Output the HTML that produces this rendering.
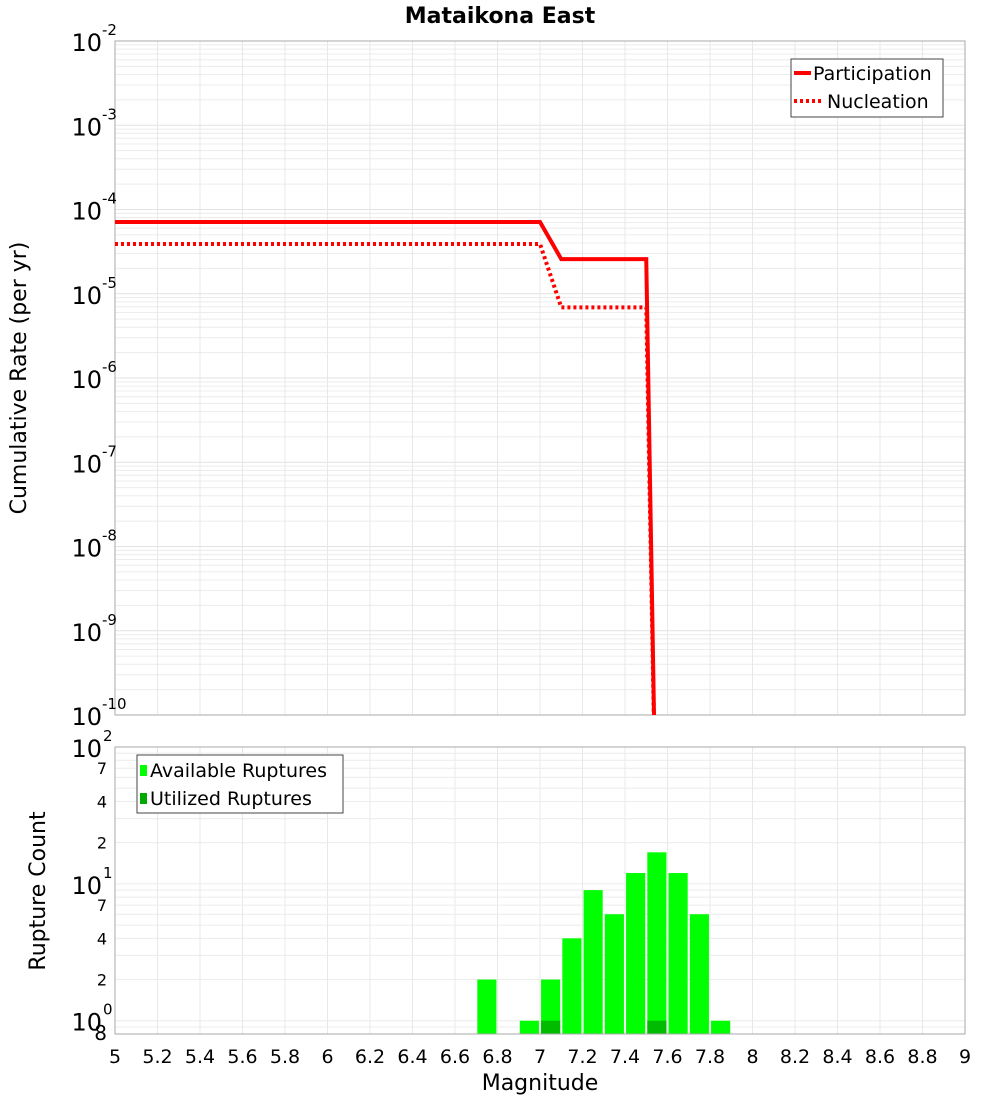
<!DOCTYPE html>
<html><head><meta charset="utf-8"><style>
body{margin:0;background:#fff}
text{font-family:"DejaVu Sans","Liberation Sans",sans-serif}
</style></head><body>
<svg id="c" width="1000" height="1100" viewBox="0 0 1000 1100" xmlns="http://www.w3.org/2000/svg">
<text x="500" y="23" text-anchor="middle" font-size="22" font-weight="bold">Mataikona East</text>
<g id="topg"></g><g id="botg"></g>
<text transform="translate(26,378) rotate(-90)" text-anchor="middle" font-size="22">Cumulative Rate (per yr)</text>
<text transform="translate(45,891) rotate(-90)" text-anchor="middle" font-size="22">Rupture Count</text>
<text x="540" y="1090" text-anchor="middle" font-size="22">Magnitude</text>
</svg>
<script>
const partMag=[5.0,7.0,7.1,7.5,7.55];
const partRate=[7.1e-5,7.1e-5,2.58e-5,2.58e-5,1e-12];
const nuclMag=[5.0,7.0,7.1,7.5,7.55];
const nuclRate=[3.9e-5,3.9e-5,6.9e-6,6.9e-6,1e-12];
const binMag=[6.75,6.95,7.05,7.15,7.25,7.35,7.45,7.55,7.65,7.75,7.85];
const availCount=[2,1,2,4,9,6,12,17,12,6,1];
const usedCount=[0,0,1,0,0,0,0,1,0,0,0];
const xTicks=[5,5.2,5.4,5.6,5.8,6,6.2,6.4,6.6,6.8,7,7.2,7.4,7.6,7.8,8,8.2,8.4,8.6,8.8,9];

const NS='http://www.w3.org/2000/svg';
function mk(p,t,a,txt){const e=document.createElementNS(NS,t);for(const k in a)e.setAttribute(k,a[k]);if(txt!==undefined)e.textContent=txt;p.appendChild(e);return e;}
const L=115,R=965;
const X=m=>L+(m-5)/4*(R-L);
const T0=41,T1=715;
const YT=v=>T0+(-2-Math.log10(v))/8*(T1-T0);
const B0=747,B1=1034;
const YB=v=>B0+(2-Math.log10(v))/Math.log10(100/0.8)*(B1-B0);
const topG=document.getElementById('topg'),botG=document.getElementById('botg');
for(let d=-10;d<-2;d++)for(let k=1;k<10;k++){const y=YT(k*Math.pow(10,d));const g=mk(topG,'line',{x1:L,x2:R,y1:y,y2:y,stroke:k==1?'#e2e2e2':'#ececec','stroke-width':1});

}
xTicks.forEach(t=>{const g=mk(topG,'line',{x1:X(t),x2:X(t),y1:T0,y2:T1,stroke:'#e8e8e8'});
 
 
 const h=mk(botG,'line',{x1:X(t),x2:X(t),y1:B0,y2:B1,stroke:'#e8e8e8'});
 
 
 const tx=mk(botG,'text',{x:X(t),y:1063,'text-anchor':'middle','font-size':19},String(t));
 
 });
let fr=mk(topG,'rect',{x:L,y:T0,width:R-L,height:T1-T0,fill:'none',stroke:'#aaa'});


for(let d=-10;d<=-2;d++){const y=YT(Math.pow(10,d));const t=mk(topG,'text',{x:102,y:y+10,'text-anchor':'end','font-size':24},'10');
 
 
 const s=mk(topG,'text',{x:102,y:y-6,'font-size':15},String(d));
 
 }
const clip=mk(topG,'clipPath',{id:'cp'});mk(clip,'rect',{x:L,y:T0,width:R-L,height:T1-T0});
function line(ms,vs,dash,name){const pts=ms.map((m,i)=>X(m)+','+YT(vs[i])).join(' ');const a={points:pts,fill:'none',stroke:'#ff0000','stroke-width':4,'clip-path':'url(#cp)'};if(dash)a['stroke-dasharray']='3,3';const e=mk(topG,'polyline',a);

}
line(partMag,partRate,false,'participation-line');
line(nuclMag,nuclRate,true,'nucleation-line');
const lg=mk(topG,'g',{});


mk(lg,'rect',{x:791,y:59,width:152,height:58,fill:'#fff',stroke:'#444'});
mk(lg,'line',{x1:794,x2:811,y1:73,y2:73,stroke:'#f00','stroke-width':4});
mk(lg,'text',{x:813,y:80,'font-size':19},'Participation');
mk(lg,'line',{x1:794,x2:823,y1:101,y2:101,stroke:'#f00','stroke-width':4,'stroke-dasharray':'3,3'});
mk(lg,'text',{x:827,y:108,'font-size':19},'Nucleation');
for(let d=-1;d<2;d++)for(let k=1;k<10;k++){const v=k*Math.pow(10,d);if(v<0.8)continue;const y=YB(v);const g=mk(botG,'line',{x1:L,x2:R,y1:y,y2:y,stroke:'#ececec'});

}
binMag.forEach((m,i)=>{const x0=X(m-0.045),w=X(m+0.045)-x0;
 const b=mk(botG,'rect',{x:x0,y:YB(availCount[i]),width:w,height:B1-YB(availCount[i]),fill:'#00ff00'});
 
 
 if(usedCount[i]>0){const u=mk(botG,'rect',{x:x0,y:YB(usedCount[i]),width:w,height:B1-YB(usedCount[i]),fill:'#00bb00'});
 
 }});
fr=mk(botG,'rect',{x:L,y:B0,width:R-L,height:B1-B0,fill:'none',stroke:'#aaa'});


[[100,'10','2'],[10,'10','1'],[1,'10','0']].forEach(([v,b,e])=>{const y=YB(v);const t=mk(botG,'text',{x:102,y:y+10,'text-anchor':'end','font-size':24},b);
 
 
 const s=mk(botG,'text',{x:103,y:y-6,'font-size':15},e);
 
 });
[[70,'7'],[40,'4'],[20,'2'],[7,'7'],[4,'4'],[2,'2'],[0.8,'8']].forEach(([v,l])=>{const t=mk(botG,'text',{x:107,y:YB(v)+6,'text-anchor':'end','font-size':v==0.8?20:16},l);
 
 });
const lb=mk(botG,'g',{});


mk(lb,'rect',{x:137,y:755,width:206,height:58,fill:'#fff',stroke:'#444'});
mk(lb,'rect',{x:140,y:765,width:7,height:11,fill:'#00ff00'});
mk(lb,'text',{x:150,y:777,'font-size':19},'Available Ruptures');
mk(lb,'rect',{x:140,y:793,width:7,height:11,fill:'#00aa00'});
mk(lb,'text',{x:150,y:805,'font-size':19},'Utilized Ruptures');
</script>
</body></html>
